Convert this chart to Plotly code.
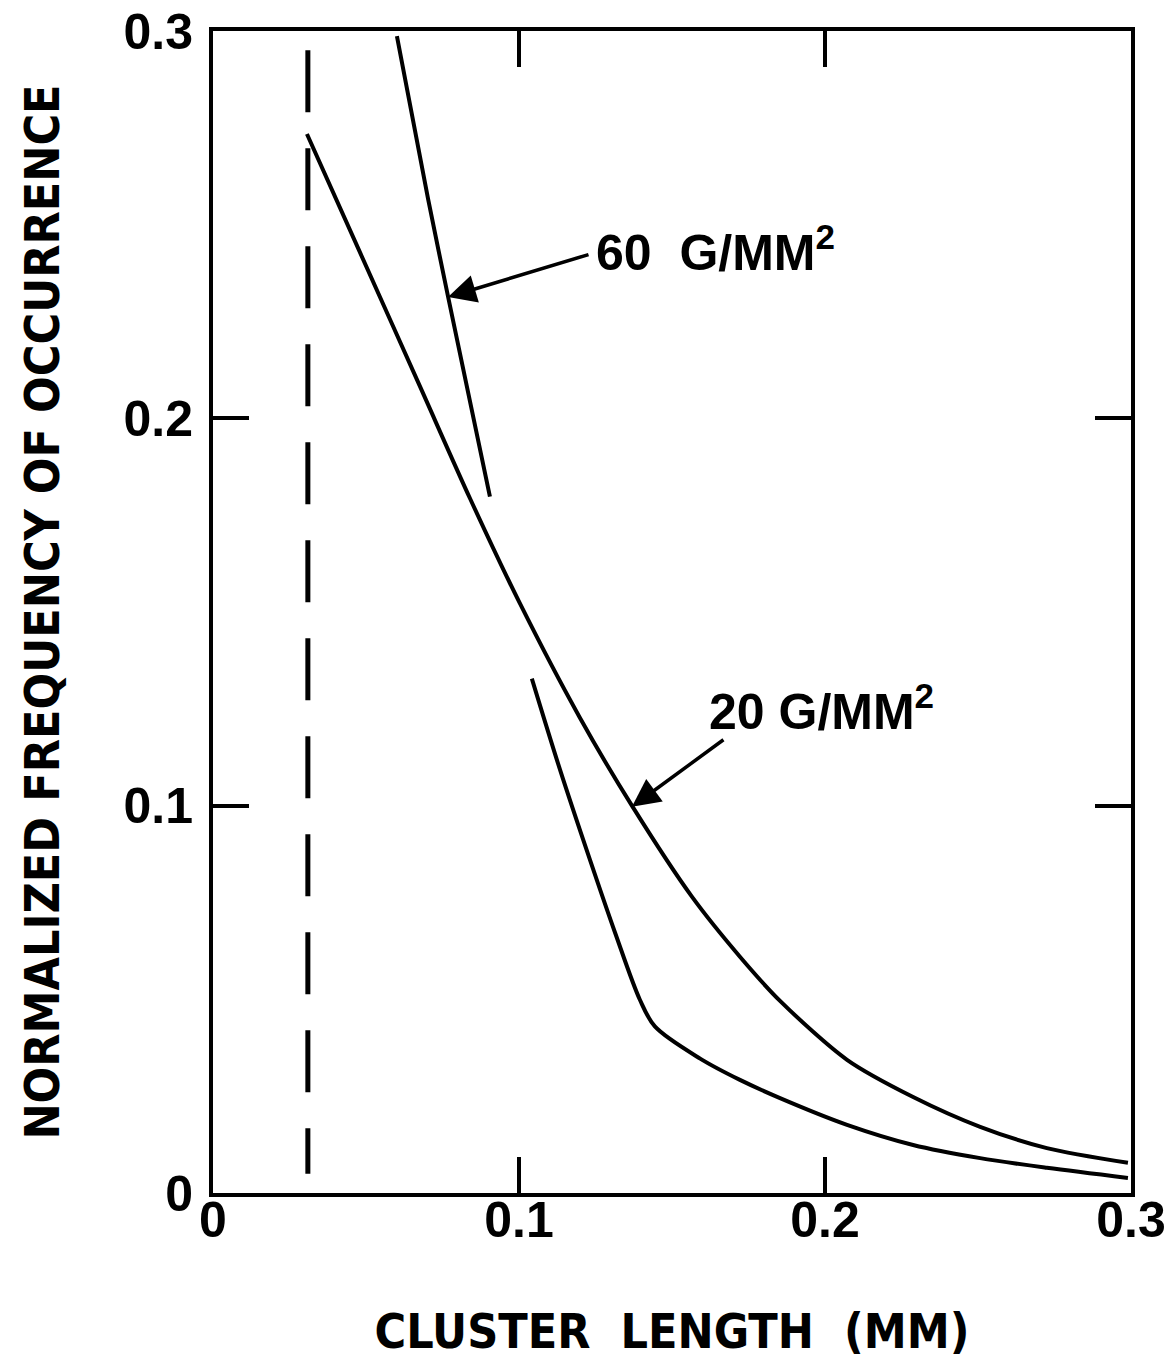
import plotly.graph_objects as go

# ---- data ----
x_20 = [0.0307, 0.0480, 0.0676, 0.0840, 0.1003, 0.1199, 0.1369, 0.1565, 0.1722,
        0.1853, 0.2072, 0.2288, 0.2507, 0.2725, 0.2990]
y_20 = [0.2734, 0.2429, 0.2083, 0.1793, 0.1522, 0.1227, 0.1000, 0.0765, 0.0610,
        0.0496, 0.0344, 0.0248, 0.0171, 0.0116, 0.0078]

x_60_upper = [0.0601, 0.0703, 0.0768, 0.0905]
y_60_upper = [0.2987, 0.2566, 0.2315, 0.1798]

x_60_lower = [0.1042, 0.1134, 0.1232, 0.1314, 0.1395, 0.1444, 0.1592, 0.1722,
              0.1853, 0.2072, 0.2288, 0.2507, 0.2725, 0.2990]
y_60_lower = [0.1328, 0.1093, 0.0860, 0.0672, 0.0499, 0.0430, 0.0347, 0.0292,
              0.0245, 0.0176, 0.0124, 0.0090, 0.0065, 0.0039]

x_cutoff = [0.031, 0.031]
y_cutoff = [0.295, 0.005]

tick_vals = [0, 0.1, 0.2, 0.3]
tick_text = ["0", "0.1", "0.2", "0.3"]

label_60 = "60  G/MM<sup>2</sup>"
label_20 = "20 G/MM<sup>2</sup>"
arrow_60 = dict(head=(0.0768, 0.2313), tail=(0.1232, 0.2424))
arrow_20 = dict(head=(0.1369, 0.0997), tail=(0.1673, 0.1173))
text_pos_60 = (0.1245, 0.2437)
text_pos_20 = (0.1614, 0.1251)

TICK_FONT = dict(family="Liberation Sans, Arial, sans-serif", size=50, color="black", weight="bold")
TITLE_FONT = dict(family="DejaVu Sans Condensed, Liberation Sans Narrow, Arial Narrow, sans-serif",
                  size=48, color="black", weight="bold")

fig = go.Figure()
fig.add_trace(go.Scatter(x=x_20, y=y_20, mode="lines",
                         line=dict(color="black", width=4, shape="spline", smoothing=0.8),
                         showlegend=False))
fig.add_trace(go.Scatter(x=x_60_upper, y=y_60_upper, mode="lines",
                         line=dict(color="black", width=4, shape="spline", smoothing=0.8),
                         showlegend=False))
fig.add_trace(go.Scatter(x=x_60_lower, y=y_60_lower, mode="lines",
                         line=dict(color="black", width=4, shape="spline", smoothing=0.9),
                         showlegend=False))
fig.add_trace(go.Scatter(x=x_cutoff, y=y_cutoff, mode="lines",
                         line=dict(color="black", width=5, dash="62px,36px"), showlegend=False))

for lab, pos in ((label_60, text_pos_60), (label_20, text_pos_20)):
    fig.add_annotation(x=pos[0], y=pos[1], xref="x", yref="y", text=lab, showarrow=False,
                       xanchor="left", yanchor="middle",
                       font=dict(family="Liberation Sans, Arial, sans-serif", size=50,
                                 color="black", weight="bold"))
for arr in (arrow_60, arrow_20):
    fig.add_annotation(x=arr["head"][0], y=arr["head"][1], xref="x", yref="y",
                       ax=arr["tail"][0], ay=arr["tail"][1], axref="x", ayref="y",
                       text="", showarrow=True, arrowhead=2, arrowsize=1.6, arrowwidth=3.5,
                       arrowcolor="black", standoff=0)

axis_common = dict(range=[0, 0.3], tickvals=tick_vals, ticktext=tick_text, ticks="inside",
                   ticklen=36, tickwidth=4, tickcolor="black", showline=True, linewidth=4,
                   linecolor="black", mirror="ticks", showgrid=False, zeroline=False,
                   tickfont=TICK_FONT)

fig.update_xaxes(**axis_common, ticklabelstandoff=-20,
                 title=dict(text="CLUSTER  LENGTH  (MM)", font=TITLE_FONT, standoff=70))
fig.update_yaxes(**axis_common, ticklabelstandoff=6,
                 title=dict(text="NORMALIZED FREQUENCY OF OCCURRENCE", font=TITLE_FONT, standoff=50))

fig.update_layout(width=1176, height=1359, margin=dict(l=213, r=45, t=31, b=166, autoexpand=False),
                  plot_bgcolor="white", paper_bgcolor="white")

fig.write_html("out.html")
